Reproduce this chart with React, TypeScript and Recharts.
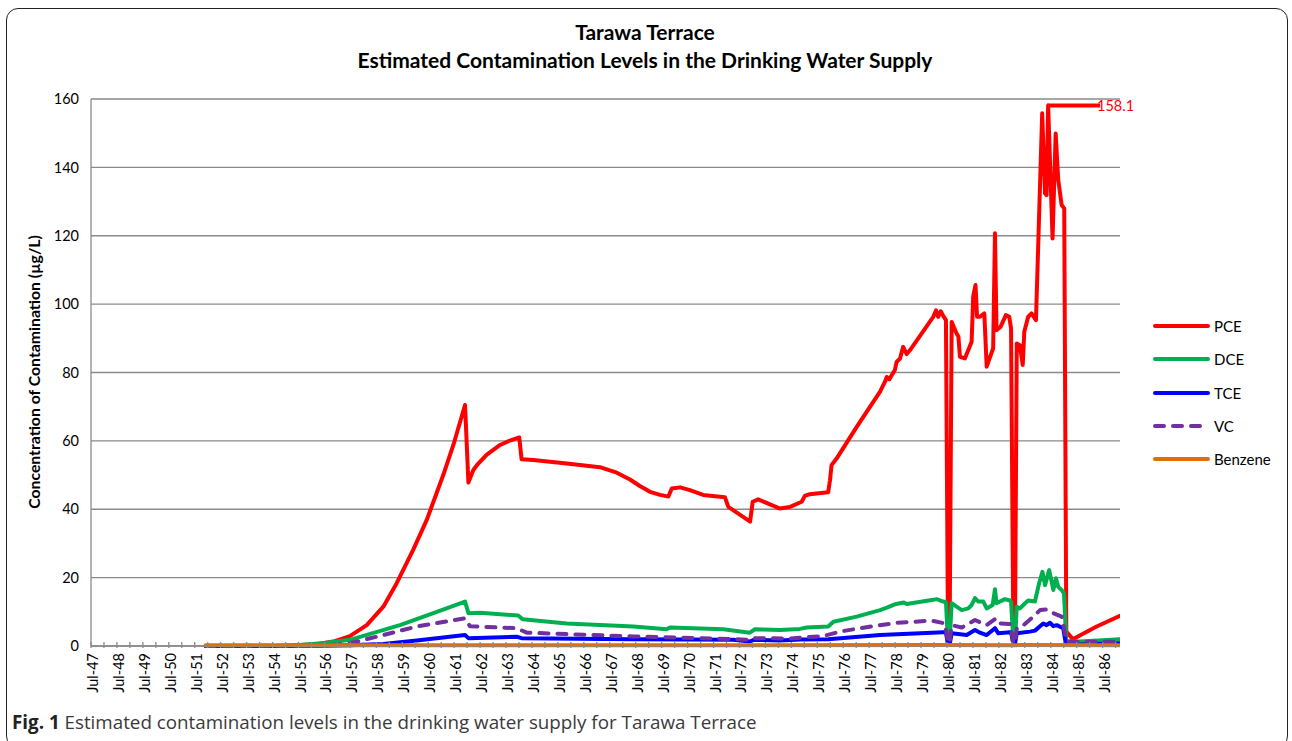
import React from 'react';
import { LineChart, Line, XAxis, YAxis, CartesianGrid, ReferenceLine } from 'recharts';

// decimal year -> concentration (µg/L)
const pceYears = [
  1951.92, 1953.5, 1955.0, 1955.56, 1956.2, 1956.84, 1957.48, 1958.13, 1958.77, 1959.28, 1959.92, 1960.44,
  1961.08, 1961.47, 1961.92, 1962.05, 1962.24, 1962.42, 1962.75, 1963.27, 1963.65, 1964.01, 1964.1, 1964.55,
  1965.84, 1967.12, 1967.77, 1968.28, 1968.66, 1969.05, 1969.44, 1969.76, 1969.89, 1970.21, 1970.59, 1971.1,
  1971.94, 1972.07, 1972.91, 1973.01, 1973.22, 1974.06, 1974.45, 1974.9, 1975.02, 1975.21, 1975.92, 1975.99,
  1976.05, 1976.25, 1977.02, 1977.92, 1978.11, 1978.18, 1978.28, 1978.49, 1978.56, 1978.69, 1978.81, 1978.95,
  1979.07, 1979.97, 1980.08, 1980.16, 1980.26, 1980.36, 1980.46, 1980.54, 1980.6, 1980.68, 1980.87, 1980.94,
  1981.0, 1981.19, 1981.45, 1981.51, 1981.6, 1981.66, 1981.77, 1981.94, 1982.03, 1982.28, 1982.35, 1982.41,
  1982.57, 1982.77, 1982.9, 1982.97, 1983.06, 1983.12, 1983.19, 1983.31, 1983.42, 1983.48, 1983.63, 1983.76,
  1983.93, 1984.17, 1984.28, 1984.34, 1984.4, 1984.57, 1984.69, 1984.79, 1984.92, 1985.02, 1985.1, 1985.35,
  1985.8, 1986.14, 1986.27, 1987.17,
];
const pceValues = [
  0, 0, 0.1, 0.3, 0.5, 1.3, 2.9, 6.1, 11.5, 18.3, 28.1, 36.8,
  50, 58.8, 70.5, 47.8, 51.5, 53.3, 55.9, 58.8, 60.1, 61, 54.6, 54.4,
  53.4, 52.3, 50.7, 48.7, 46.8, 45.1, 44.2, 43.7, 46.1, 46.4, 45.6, 44.2,
  43.5, 40.7, 36.4, 42.2, 42.9, 40.2, 40.7, 42.2, 43.9, 44.4, 45, 48.5,
  52.9, 54.9, 64.1, 74.4, 77.3, 78.7, 78, 80.7, 83.1, 84.1, 87.5, 85.4,
  86.5, 96.3, 98.2, 96.3, 97.9, 96.5, 95.3, 1, 1, 94.8, 91.4, 90.5,
  84.6, 84.1, 89, 102.2, 105.6, 96.3, 96.3, 97.3, 81.7, 87.1, 120.7, 92.4,
  93.4, 96.8, 96.3, 92.9, 0.8, 0.8, 88.5, 88, 82.2, 91.9, 96.3, 97.3,
  95.3, 155.8, 132.4, 131.9, 158.1, 119.2, 149.9, 136.3, 129, 128, 4.2, 2.0,
  3.8, 5.2, 5.7, 8.8,
];

const dceYears = [
  1951.92, 1955.0, 1955.56, 1956.5, 1957.48, 1959.41, 1960.7, 1961.92, 1962.05, 1962.5, 1963.97, 1964.14,
  1965.84, 1968.41, 1969.69, 1969.82, 1971.88, 1972.9, 1973.1, 1974.06, 1974.83, 1975.09, 1975.92, 1976.12,
  1977.02, 1977.92, 1978.18, 1978.49, 1978.84, 1978.95, 1979.97, 1980.1, 1980.36, 1980.46, 1980.54, 1980.6,
  1980.68, 1980.87, 1981.07, 1981.32, 1981.45, 1981.58, 1981.71, 1981.9, 1982.03, 1982.26, 1982.35, 1982.41,
  1982.73, 1982.93, 1982.97, 1983.06, 1983.12, 1983.19, 1983.31, 1983.51, 1983.63, 1983.89, 1984.05, 1984.18,
  1984.28, 1984.44, 1984.6, 1984.7, 1984.79, 1984.92, 1985.01, 1985.1, 1985.63, 1987.17,
];
const dceValues = [
  0, 0, 0.3, 0.9, 1.8, 6.1, 9.6, 13, 9.6, 9.7, 8.9, 7.8,
  6.6, 5.7, 4.9, 5.4, 4.9, 3.9, 4.9, 4.7, 5, 5.4, 5.7, 7.1,
  8.6, 10.5, 11.2, 12.2, 12.7, 12.3, 13.5, 13.7, 13, 12.8, 0.8, 0.8,
  12.5, 11.5, 10.5, 11, 12, 14, 13, 13, 11, 12, 16.6, 12.5,
  13.7, 13.3, 13, 1.3, 1.3, 11.5, 11, 12.5, 13.3, 13, 18.3, 21.7,
  17.8, 22.2, 16.4, 19.8, 17.3, 16.4, 15.4, 1.3, 1.3, 2,
];

const tceYears = [
  1951.92, 1956.5, 1957.5, 1958.77, 1960.06, 1961.92, 1962.05, 1963.91, 1964.1, 1968.41, 1972.26, 1972.9,
  1973.05, 1974.06, 1974.83, 1975.92, 1977.92, 1980.36, 1980.46, 1980.54, 1980.6, 1980.68, 1981.26, 1981.58,
  1981.77, 1982.03, 1982.35, 1982.48, 1982.93, 1982.97, 1983.06, 1983.12, 1983.19, 1983.7, 1983.89, 1984.21,
  1984.34, 1984.47, 1984.6, 1984.73, 1984.98, 1985.09, 1987.17,
];
const tceValues = [
  0, 0.05, 0.2, 0.6, 1.6, 3.2, 2.3, 2.7, 2.3, 2, 1.8, 1.3,
  1.8, 1.6, 1.9, 2, 3.2, 4, 4, 0.3, 0.3, 3.7, 3.2, 4.7,
  3.9, 3.2, 5.2, 3.7, 4, 4, 0.5, 0.5, 3.7, 4.2, 4.5, 6.6,
  6.1, 6.8, 5.8, 6.1, 5.2, 0.3, 0.8,
];

const vcYears = [
  1951.92, 1956.5, 1957.48, 1958.77, 1960.06, 1961.92, 1962.11, 1963.91, 1964.3, 1968.41, 1972.26, 1972.9,
  1973.05, 1974.45, 1975.73, 1976.37, 1977.14, 1978.56, 1979.91, 1980.42, 1980.54, 1980.6, 1980.68, 1981.07,
  1981.58, 1982.03, 1982.39, 1982.54, 1982.93, 1983.06, 1983.12, 1983.19, 1983.45, 1983.83, 1984.09, 1984.34,
  1984.6, 1984.92, 1985.11, 1987.17,
];
const vcValues = [
  0, 0.1, 0.8, 3.2, 5.7, 8.1, 5.8, 5.2, 3.9, 2.8, 2, 1.8,
  2.3, 2.2, 2.9, 4.2, 5.2, 6.8, 7.4, 6.6, 0.9, 0.9, 6.1, 5.4,
  7.6, 6.1, 8.1, 6.6, 6.4, 0.8, 0.8, 5.2, 6.1, 8.6, 10.5, 10.7,
  9.6, 8.6, 1.3, 1.2,
];

const benzeneYears = [1951.92, 1960.0, 1970.0, 1980.0, 1987.17];
const benzeneValues = [0.2, 0.2, 0.2, 0.3, 0.2];

const yTicks = [0, 20, 40, 60, 80, 100, 120, 140, 160];
const peakLabel = '158.1';

const series = [
  { name: 'PCE', years: pceYears, values: pceValues, color: '#FF0000', dash: undefined },
  { name: 'DCE', years: dceYears, values: dceValues, color: '#00B050', dash: undefined },
  { name: 'TCE', years: tceYears, values: tceValues, color: '#0000FF', dash: undefined },
  { name: 'VC', years: vcYears, values: vcValues, color: '#7030A0', dash: '9 9' },
  { name: 'Benzene', years: benzeneYears, values: benzeneValues, color: '#E46C0A', dash: undefined },
];

// a tick every half year, label only on July
const xTicks: number[] = [];
for (let y = 1947.5; y <= 1987.01; y += 0.5) xTicks.push(Math.round(y * 10) / 10);

const FONT = "Lato, 'Open Sans', sans-serif";
const GRID = '#8a8a8a';

const XTick = (props: any) => {
  const { x, y, payload } = props;
  const v = payload.value as number;
  const july = Math.abs(v - Math.floor(v) - 0.5) < 0.01;
  const yy = String(Math.floor(v) % 100).padStart(2, '0');
  return (
    <g>
      <line x1={x} x2={x} y1={y - 4} y2={y + 2} stroke={GRID} strokeWidth={1.3} />
      {july && (
        <text
          transform={`translate(${x + 7},${y + 7}) rotate(-90)`}
          textAnchor="end"
          fontSize={14.5}
          fontFamily={FONT}
          fill="#000"
        >
          {`Jul-${yy}`}
        </text>
      )}
    </g>
  );
};

export default function App() {
  return (
    <div style={{ position: 'absolute', left: 0, top: 0, width: 1292, height: 741, overflow: 'hidden', background: '#fff' }}>
      <div
        style={{
          position: 'absolute',
          left: 6,
          top: 8,
          width: 1282,
          height: 740,
          border: '1.5px solid #222',
          borderRadius: 12,
          boxSizing: 'border-box',
        }}
      />
      <div
        style={{
          position: 'absolute',
          left: 0,
          top: 18,
          width: 1290,
          textAlign: 'center',
          fontFamily: FONT,
          fontWeight: 700,
          fontSize: 21,
          lineHeight: '28px',
          color: '#000',
        }}
      >
        <div>Tarawa Terrace</div>
        <div>Estimated Contamination Levels in the Drinking Water Supply</div>
      </div>

      <LineChart width={1292} height={741} margin={{ top: 99, right: 172, bottom: 35, left: 31 }}>
        <CartesianGrid vertical={false} stroke={GRID} strokeWidth={1.3} />
        <XAxis
          type="number"
          dataKey="t"
          domain={[1947.5, 1987.17]}
          ticks={xTicks}
          interval={0}
          height={60}
          tickSize={0}
          tickMargin={0}
          tick={<XTick />}
          axisLine={{ stroke: GRID, strokeWidth: 1.3 }}
          allowDataOverflow
        />
        <YAxis
          type="number"
          domain={[0, 160]}
          ticks={yTicks}
          width={60}
          tickLine={false}
          tickSize={0}
          tickMargin={12}
          axisLine={{ stroke: GRID, strokeWidth: 1.3 }}
          tick={{ fontSize: 14.5, fontFamily: FONT, fill: '#000' }}
        />
        {series.map((s) => (
          <Line
            key={s.name}
            data={s.years.map((t, i) => ({ t, v: s.values[i] }))}
            dataKey="v"
            name={s.name}
            type="linear"
            stroke={s.color}
            strokeWidth={4}
            strokeDasharray={s.dash}
            strokeLinecap="round"
            strokeLinejoin="round"
            dot={false}
            activeDot={false}
            isAnimationActive={false}
          />
        ))}
        <ReferenceLine
          segment={[
            { x: 1984.36, y: 158.1 },
            { x: 1986.4, y: 158.1 },
          ]}
          stroke="#FF0000"
          strokeWidth={4}
          label={{ value: peakLabel, position: 'right', offset: -3, fill: '#FF0000', fontSize: 14.5, fontFamily: FONT }}
        />
      </LineChart>

      <div
        style={{
          position: 'absolute',
          left: 33,
          top: 372,
          transform: 'translate(-50%, -50%) rotate(-90deg)',
          whiteSpace: 'nowrap',
          fontFamily: FONT,
          fontWeight: 700,
          fontSize: 15.8,
          color: '#000',
        }}
      >
        Concentration of Contamination (µg/L)
      </div>

      <div style={{ position: 'absolute', left: 1150, top: 316 }}>
        {series.map((s, i) => (
          <div key={s.name} style={{ position: 'absolute', left: 0, top: i * 33.3, height: 20, width: 140 }}>
            <svg width={62} height={20} style={{ position: 'absolute', left: 0, top: 0 }}>
              <line
                x1={5}
                x2={58}
                y1={10}
                y2={10}
                stroke={s.color}
                strokeWidth={4}
                strokeLinecap="round"
                strokeDasharray={s.dash}
              />
            </svg>
            <span
              style={{
                position: 'absolute',
                left: 64,
                top: 0,
                lineHeight: '20px',
                fontFamily: FONT,
                fontSize: 15,
                color: '#000',
              }}
            >
              {s.name}
            </span>
          </div>
        ))}
      </div>

      <div
        style={{
          position: 'absolute',
          left: 12,
          top: 710,
          fontFamily: "'Open Sans', sans-serif",
          fontSize: 18.8,
          lineHeight: '24px',
          color: '#3a3a3a',
          whiteSpace: 'nowrap',
        }}
      >
        <span style={{ fontWeight: 700, color: '#222' }}>Fig. 1</span> Estimated contamination levels in the drinking water
        supply for Tarawa Terrace
      </div>
    </div>
  );
}
